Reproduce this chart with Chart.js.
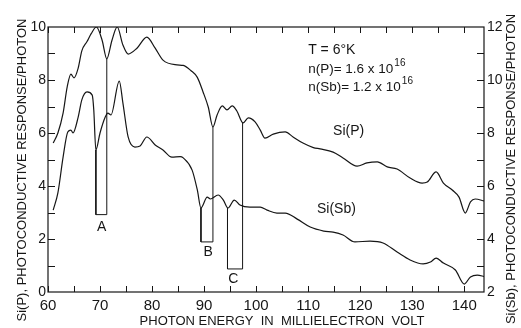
<!DOCTYPE html>
<html>
<head>
<meta charset="utf-8">
<script src="https://cdn.jsdelivr.net/npm/chart.js@4.4.1/dist/chart.umd.min.js"></script>
<style>
  body { margin: 0; background: #fff; }
  canvas { display: block; }
</style>
</head>
<body>
<canvas id="chart" width="521" height="328"></canvas>
<script>
// Si(P) photoconductive response per photon (left axis)
const pEnergy = [61.0, 61.9, 62.9, 63.7, 64.4, 65.0, 65.8, 66.5, 67.5, 68.3, 69.3, 70.4, 71.3, 72.3, 73.3,
  74.4, 75.4, 77.1, 79.0, 80.6, 82.1, 84.8, 86.0, 87.5, 88.7, 89.8, 90.8, 91.7, 92.5, 93.5, 94.4, 95.4,
  96.3, 97.5, 98.5, 99.8, 100.8, 101.7, 103.3, 105.6, 107.1, 109.0, 111.0, 112.3, 114.8, 116.7, 119.4,
  121.3, 123.3, 125.2, 127.1, 129.6, 131.9, 132.9, 134.6, 136.0, 137.7, 139.0, 140.2, 141.2, 142.1, 143.9];
const pResponse = [5.62, 6.0, 6.75, 7.75, 8.22, 8.08, 8.45, 9.1, 9.45, 9.75, 10.0, 9.5, 8.8, 9.5, 10.0,
  9.32, 8.98, 9.2, 9.62, 9.2, 8.75, 8.57, 8.55, 8.35, 8.1, 7.55, 6.98, 6.23, 6.68, 7.02, 6.87, 7.02,
  6.83, 6.38, 6.57, 6.42, 6.11, 5.81, 5.96, 6.04, 5.85, 5.62, 5.45, 5.4, 5.28, 5.06, 4.75,
  4.87, 4.91, 4.72, 4.64, 4.3, 4.11, 4.15, 4.53, 4.11, 3.85, 3.58, 2.98, 3.4, 3.51, 3.43];

// Si(Sb) photoconductive response per photon (right axis)
const sbEnergy = [61.0, 61.9, 62.9, 63.8, 64.4, 64.8, 65.8, 66.5, 67.5, 68.5, 68.8, 69.2, 70.0, 71.0, 71.5,
  72.1, 73.7, 74.4, 75.4, 76.7, 77.7, 79.0, 80.6, 82.1, 83.8, 85.4, 86.0, 87.7, 88.7, 89.4, 90.6, 91.2,
  92.7, 93.7, 94.6, 95.8, 96.9, 98.8, 100.8, 102.1, 104.0, 105.6, 107.9, 110.4, 113.0, 114.8, 116.7,
  119.0, 121.9, 124.4, 127.1, 129.6, 132.1, 133.5, 134.6, 136.0, 138.3, 140.0, 141.2, 142.5, 143.9];
const sbResponse = [5.09, 5.74, 7.09, 8.04, 8.11, 8.0, 8.6, 9.25, 9.55, 9.43, 8.87, 7.36, 8.0, 8.6, 8.75,
  8.68, 9.96, 9.13, 7.85, 7.47, 7.51, 7.85, 7.55, 7.36, 7.09, 7.11, 7.06, 6.6, 5.85, 5.17, 5.58, 5.51,
  5.66, 5.47, 5.17, 5.47, 5.28, 5.2, 5.2, 5.09, 4.98, 4.98, 4.75, 4.45, 4.3, 4.26, 4.15,
  3.89, 3.92, 3.85, 3.51, 3.21, 3.06, 3.13, 3.28, 3.09, 2.83, 2.30, 2.57, 2.64, 2.58];

// A, B, C markers (left-axis units)
const markNames = ['A', 'B', 'C'];
const markLeftX = [69.2, 89.4, 94.5];
const markLeftTop = [5.36, 3.17, 3.17];
const markRightX = [71.3, 91.7, 97.4];
const markRightTop = [8.8, 6.23, 6.38];
const markBottom = [2.92, 1.89, 0.87];
const markLabelX = [70.3, 90.8, 95.6];
const markLabelY = [2.45, 1.49, 0.47];

const xTickLabels = [60, 70, 80, 90, 100, 110, 120, 130, 140];
const yLeftTicks = [0, 2, 4, 6, 8, 10];
const yRightTicks = [2, 4, 6, 8, 10, 12];

const ink = '#161616';
const font = '"Liberation Sans", Arial, sans-serif';

function pairs(xs, ys) {
    return xs.map(function(x, i) { return {x: x, y: ys[i]}; });
}

const markSets = markNames.map(function(name, i) {
    return {
        data: [
            {x: markLeftX[i], y: markLeftTop[i]},
            {x: markLeftX[i], y: markBottom[i]},
            {x: markRightX[i], y: markBottom[i]},
            {x: markRightX[i], y: markRightTop[i]}
        ],
        yAxisID: 'y', borderColor: ink, borderWidth: 1, pointRadius: 0, tension: 0, showLine: true
    };
});

// Frame, inward ticks, titles and notes
const decorations = {
    id: 'decorations',
    afterDraw(chart) {
        const ctx = chart.ctx;
        const a = chart.chartArea;
        const sx = chart.scales.x, sy = chart.scales.y, sy1 = chart.scales.y1;
        ctx.save();
        ctx.strokeStyle = ink;
        ctx.fillStyle = ink;
        ctx.lineWidth = 1.2;
        ctx.strokeRect(a.left, a.top, a.right - a.left, a.bottom - a.top);

        ctx.lineWidth = 1;
        ctx.beginPath();
        for (let v = 60; v <= 140; v += 5) {
            const px = Math.round(sx.getPixelForValue(v)) + 0.5;
            ctx.moveTo(px, a.bottom); ctx.lineTo(px, a.bottom - 6);
            ctx.moveTo(px, a.top); ctx.lineTo(px, a.top + 6);
        }
        for (let v = 1; v < 10; v++) {
            const py = Math.round(sy.getPixelForValue(v)) + 0.5;
            ctx.moveTo(a.left, py); ctx.lineTo(a.left + 7, py);
        }
        for (let v = 3; v < 12; v++) {
            const py = Math.round(sy1.getPixelForValue(v)) + 0.5;
            ctx.moveTo(a.right, py); ctx.lineTo(a.right - 7, py);
        }
        ctx.stroke();

        // marker letters
        ctx.font = '14px ' + font;
        ctx.textAlign = 'center';
        ctx.textBaseline = 'middle';
        markNames.forEach(function(name, i) {
            ctx.fillText(name, sx.getPixelForValue(markLabelX[i]), sy.getPixelForValue(markLabelY[i]));
        });

        // notes
        ctx.textAlign = 'left';
        ctx.textBaseline = 'alphabetic';
        ctx.font = '14px ' + font;
        const nx = sx.getPixelForValue(110);
        ctx.fillText('T = 6°K', nx, sy.getPixelForValue(8.98));
        function withPower(text, y) {
            ctx.font = '13.5px ' + font;
            ctx.fillText(text, nx, y);
            const w = ctx.measureText(text).width;
            ctx.font = '10px ' + font;
            ctx.fillText('16', nx + w + 1, y - 7);
        }
        withPower('n(P)= 1.6 x 10', sy.getPixelForValue(8.26));
        withPower('n(Sb)= 1.2 x 10', sy.getPixelForValue(7.58));
        ctx.font = '14px ' + font;
        ctx.fillText('Si(P)', sx.getPixelForValue(114.8), sy.getPixelForValue(5.92));
        ctx.fillText('Si(Sb)', sx.getPixelForValue(111.7), sy.getPixelForValue(2.98));

        // axis titles
        ctx.font = '13px ' + font;
        ctx.textAlign = 'center';
        ctx.textBaseline = 'middle';
        ctx.fillText('PHOTON ENERGY  IN  MILLIELECTRON  VOLT', 282, 321);
        ctx.save();
        ctx.translate(22, 170);
        ctx.rotate(-Math.PI / 2);
        ctx.fillText('Si(P), PHOTOCONDUCTIVE RESPONSE/PHOTON', 0, 0);
        ctx.restore();
        ctx.save();
        ctx.translate(511, 169);
        ctx.rotate(-Math.PI / 2);
        ctx.fillText('Si(Sb), PHOTOCONDUCTIVE RESPONSE/PHOTON', 0, 0);
        ctx.restore();
        ctx.restore();
    }
};

function setTicks(values) {
    return function(scale) {
        scale.ticks = values.map(function(v) { return {value: v}; });
    };
}

new Chart(document.getElementById('chart'), {
    type: 'scatter',
    data: {
        datasets: [
            {data: pairs(pEnergy, pResponse), yAxisID: 'y', borderColor: ink, borderWidth: 1.2,
             pointRadius: 0, showLine: true, cubicInterpolationMode: 'monotone'},
            {data: pairs(sbEnergy, sbResponse), yAxisID: 'y1', borderColor: ink, borderWidth: 1.2,
             pointRadius: 0, showLine: true, cubicInterpolationMode: 'monotone'}
        ].concat(markSets)
    },
    options: {
        responsive: false,
        animation: false,
        layout: {padding: {top: 27, left: 0, right: 0, bottom: 0}},
        plugins: {legend: {display: false}, tooltip: {enabled: false}},
        scales: {
            x: {
                type: 'linear', min: 60, max: 143.8,
                grid: {display: false, drawTicks: false}, border: {display: false},
                afterBuildTicks: setTicks(xTickLabels),
                afterFit: function(s) { s.height = 36; },
                ticks: {color: ink, font: {family: font, size: 15}, padding: 5, maxRotation: 0, autoSkip: false}
            },
            y: {
                position: 'left', min: 0, max: 10,
                grid: {display: false, drawTicks: false}, border: {display: false},
                afterBuildTicks: setTicks(yLeftTicks),
                afterFit: function(s) { s.width = 48; },
                ticks: {color: ink, font: {family: font, size: 14}, padding: 2}
            },
            y1: {
                position: 'right', min: 2, max: 12,
                grid: {display: false, drawTicks: false}, border: {display: false},
                afterBuildTicks: setTicks(yRightTicks),
                afterFit: function(s) { s.width = 37; },
                ticks: {color: ink, font: {family: font, size: 14}, padding: 3}
            }
        }
    },
    plugins: [decorations]
});
</script>
</body>
</html>
